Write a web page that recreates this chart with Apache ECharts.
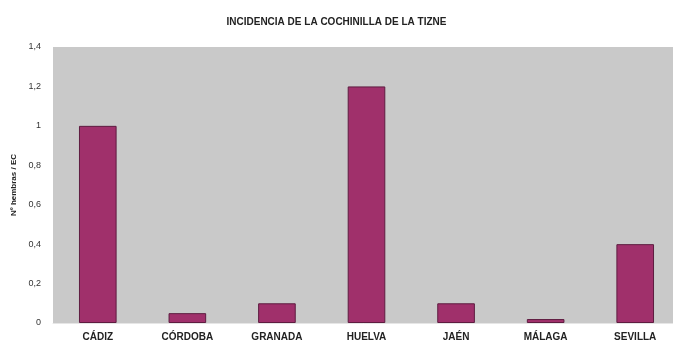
<!DOCTYPE html>
<html><head><meta charset="utf-8">
<script src="https://cdn.jsdelivr.net/npm/echarts@6/dist/echarts.min.js"></script>
<style>html,body{margin:0;padding:0;background:#fff}#c{width:673px;height:347px}</style>
</head><body><div id="c"></div>
<script>
const categories = ['CÁDIZ','CÓRDOBA','GRANADA','HUELVA','JAÉN','MÁLAGA','SEVILLA'];
const values = [1.0, 0.05, 0.1, 1.2, 0.1, 0.02, 0.4];
const titleText = 'INCIDENCIA DE LA COCHINILLA DE LA TIZNE';
const yName = 'Nº hembras / EC';
const font = '"Liberation Sans Narrow", "Liberation Sans", Arial, sans-serif';
const chart = echarts.init(document.getElementById('c'));
chart.setOption({
  backgroundColor: '#fff',
  animation: false,
  title: {text: titleText, left: 'center', top: 12,
    textStyle: {fontFamily: font, fontSize: 10, fontWeight: 'bold', color: '#222'}},
  grid: {left: 53, right: -7, top: 47, bottom: 24, outerBoundsMode: 'none', containLabel: false,
    show: true, backgroundColor: '#c9c9c9', borderWidth: 0},
  xAxis: {type: 'category', data: categories,
    axisLine: {show: true, lineStyle: {color: '#e6e6e6'}}, axisTick: {show: false},
    axisLabel: {fontFamily: font, fontSize: 10, fontWeight: 'bold', color: '#222', margin: 9}},
  yAxis: {type: 'value', min: 0, max: 1.4, interval: 0.2,
    name: yName, nameLocation: 'middle', nameGap: 30, nameRotate: 90,
    nameTextStyle: {fontFamily: font, fontSize: 8, fontWeight: 'bold', color: '#222'},
    axisLine: {show: false}, axisTick: {show: false}, splitLine: {show: false},
    axisLabel: {fontFamily: font, fontSize: 9, color: '#333', margin: 12,
      formatter: v => String(Math.round(v*10)/10).replace('.', ',')}},
  series: [{type: 'bar', data: values, barCategoryGap: '58%',
    itemStyle: {color: '#a0306b', borderColor: '#5e1c40', borderWidth: 1}}]
});
</script></body></html>
